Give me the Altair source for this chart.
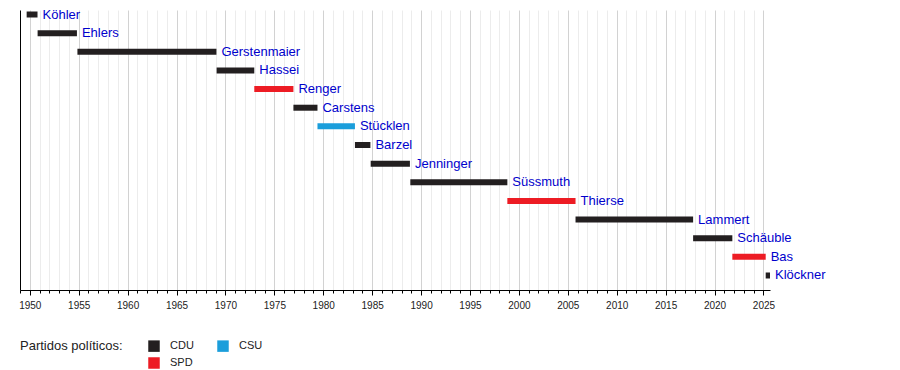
import altair as alt
import pandas as pd

names = ["Köhler", "Ehlers", "Gerstenmaier", "Hassei", "Renger", "Carstens",
         "Stücklen", "Barzel", "Jenninger", "Süssmuth", "Thierse", "Lammert",
         "Schäuble", "Bas", "Klöckner"]
starts = [1949.68, 1950.80, 1954.87, 1969.10, 1972.95, 1976.95, 1979.41, 1983.24,
          1984.85, 1988.90, 1998.82, 2005.79, 2017.81, 2021.82, 2025.23]
ends = [1950.79, 1954.82, 1969.08, 1972.95, 1976.95, 1979.41, 1983.24, 1984.82,
        1988.86, 1998.82, 2005.79, 2017.81, 2021.82, 2025.23, 2025.67]
parties = ["CDU", "CDU", "CDU", "CDU", "SPD", "CDU", "CSU", "CDU", "CDU", "CDU",
           "SPD", "CDU", "CDU", "SPD", "CDU"]

party_names = ["CDU", "CSU", "SPD"]
party_colors = ["#231f20", "#1b9edb", "#ed1c24"]
years = list(range(1949, 2026))

df = pd.DataFrame({"name": names, "start": starts, "end": ends, "party": parties})

FONT = "Liberation Sans"

x_enc = alt.X(
    "start:Q",
    scale=alt.Scale(domain=[1949, 2025.67], nice=False, zero=False),
    axis=alt.Axis(
        values=years,
        tickCount=200,
        format="d",
        labelExpr="datum.value % 5 === 0 ? datum.label : ''",
        labelOverlap=False,
        labelFontSize=10,
        labelColor="#222",
        labelFont=FONT,
        labelPadding=5,
        tickSize={"condition": {"test": "datum.value % 5 === 0", "value": 5}, "value": 3},
        tickColor="black",
        domainColor="black",
        gridColor={"condition": {"test": "datum.value % 5 === 0", "value": "#d2d2d2"}, "value": "#ececec"},
        grid=True,
        title=None,
    ),
)

y_enc = alt.Y(
    "name:N",
    sort=names,
    scale=alt.Scale(type="point", padding=0.51, align=0.237),
    axis=alt.Axis(labels=False, ticks=False, grid=False, domain=True,
                  domainColor="black", title=None),
)

bars = alt.Chart(df).mark_bar(size=6).encode(
    x=x_enc,
    x2="end:Q",
    y=y_enc,
    color=alt.Color(
        "party:N",
        scale=alt.Scale(domain=party_names, range=party_colors),
        legend=alt.Legend(
            title="Partidos políticos:",
            orient="none",
            legendX=0,
            legendY=330,
            direction="horizontal",
            columns=2,
            titleOrient="left",
            titleAnchor="start",
            titleFontSize=13,
            titleFontWeight="normal",
            titleFont=FONT,
            titleColor="#222",
            titlePadding=25,
            titleBaseline="top",
            symbolType="square",
            symbolSize=132,
            symbolStrokeWidth=0,
            symbolOpacity=1,
            labelFontSize=11,
            labelFont=FONT,
            labelColor="#222",
            labelOffset=10,
            columnPadding=23,
            rowPadding=5,
        ),
    ),
)

labels = alt.Chart(df).mark_text(
    align="left", baseline="middle", dx=5, dy=0, fontSize=13, font=FONT, color="#0000cc"
).encode(
    x="end:Q",
    y=alt.Y("name:N", sort=names),
    text="name:N",
)

chart = alt.layer(bars, labels).properties(
    width=750,
    height=280,
    padding={"left": 12, "top": 2, "right": 122, "bottom": 80},
    autosize=alt.AutoSizeParams(type="none"),
).configure_view(stroke="transparent")

chart.save("out.html", embed_options={"renderer": "svg", "actions": False})
